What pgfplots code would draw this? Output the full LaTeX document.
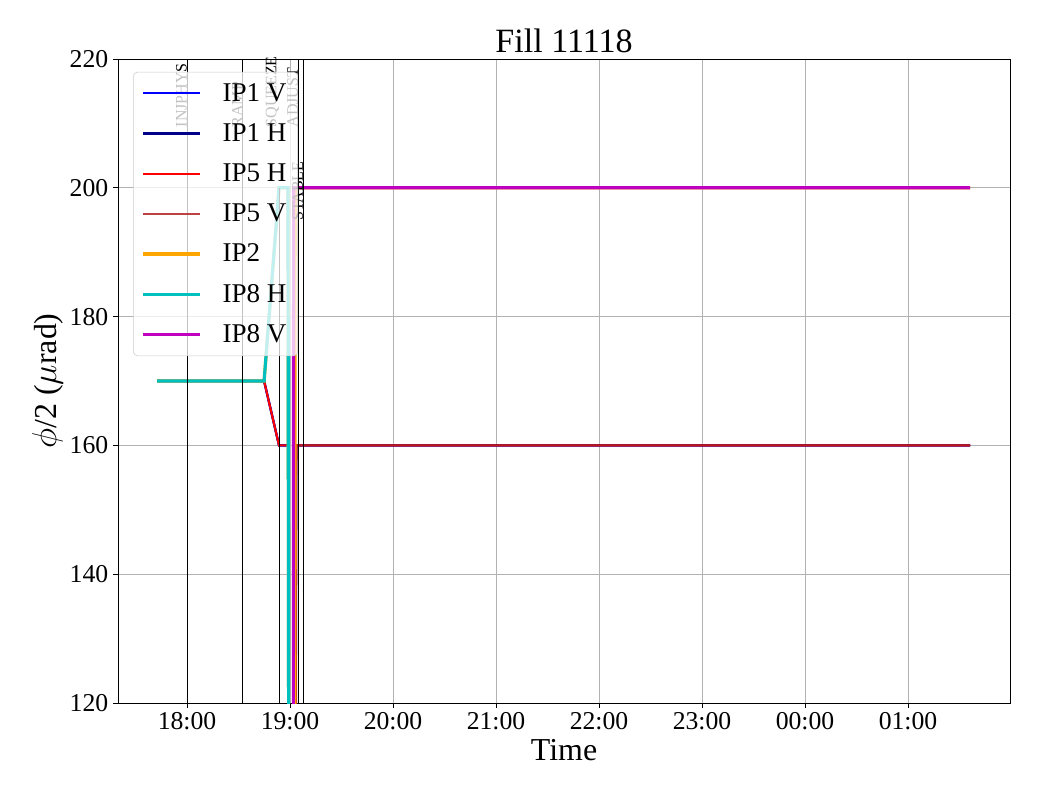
\documentclass[border=0pt]{standalone}
\usepackage{fontspec}
\setmainfont{Liberation Serif}
\usepackage{pgfplots}
\pgfplotsset{compat=1.18}
\definecolor{ip1h}{RGB}{0,0,139}
\definecolor{ip5v}{RGB}{178,34,34}
\definecolor{ip2}{RGB}{255,165,0}
\definecolor{ip8h}{RGB}{0,191,191}
\definecolor{ip8v}{RGB}{191,0,191}
\begin{document}
\begin{tikzpicture}
\begin{axis}[
  name=ax,
  scale only axis,
  width=642.2pt, height=463.7pt,
  xmin=17.33, xmax=25.99,
  ymin=120, ymax=220,
  xtick={18,19,20,21,22,23,24,25},
  xticklabels={18:00,19:00,20:00,21:00,22:00,23:00,00:00,01:00},
  ytick={120,140,160,180,200,220},
  /pgf/number format/assume math mode=true,
  tick label style={font=\fontsize{18.5}{20}\selectfont},
  tick align=outside,
  major tick length=3.5pt,
  tick style={black, line width=0.6pt},
  xtick pos=bottom, ytick pos=left,
  grid=major,
  grid style={color=black!30, line width=0.6pt},
  axis line style={line width=0.7pt},
  title={Fill 11118},
  title style={font=\fontsize{24.5}{27}\selectfont, at={(0.5,1)}, anchor=south, yshift=-5pt},
  xlabel={Time},
  ylabel={\(\phi\)/2 (\(\mu\)rad)},
  label style={font=\fontsize{23}{26}\selectfont},
  ylabel style={xshift=0pt, yshift=-2pt},
  clip mode=individual,
  legend style={at={(0.0168,0.98)}, anchor=north west, draw=black!20, rounded corners=3pt,
    fill=white, fill opacity=0.76, text opacity=1, font=\fontsize{19.5}{22}\selectfont,
    row sep=10.6pt, inner xsep=6pt, inner ysep=6pt,
    /tikz/every odd column/.append style={column sep=13pt}},
  legend cell align=left,
  legend image code/.code={\draw[#1] (0pt,0pt) -- (41pt,0pt);},
]
% IP1 V
\addplot[blue, line width=1.7pt] coordinates {(17.709,170)(18.748,170)(18.893,160)(18.985,160)(18.99,0)(19.04,0)(19.06,160)(25.602,160)};
\addlegendentry{IP1 V}
% IP1 H
\addplot[ip1h, line width=1.5pt] coordinates {(17.709,170)(18.748,170)(18.893,160)(18.985,160)(18.99,0)(19.04,0)(19.06,160)(25.602,160)};
\addlegendentry{IP1 H}
% IP5 H
\addplot[red, line width=1.5pt] coordinates {(17.709,170)(18.748,170)(18.893,160)(18.985,160)(18.99,0)(19.04,0)(19.06,160)(25.602,160)};
\addlegendentry{IP5 H}
% IP5 V
\addplot[ip5v, line width=1.5pt, draw opacity=0.85] coordinates {(19.05,0)(19.06,160)(25.602,160)};
\addlegendentry{IP5 V}
% IP2
\addplot[ip2, line width=2.3pt] coordinates {(17.709,170)(18.748,170)(18.893,200)(18.98,200)(18.995,0)(19.04,0)(19.05,200)(25.602,200)};
\addlegendentry{IP2}
% IP8 H
\addplot[ip8h, line width=2.3pt] coordinates {(17.709,170)(18.748,170)(18.893,200)(18.98,200)(18.995,0)};
\addlegendentry{IP8 H}
% IP8 V
\addplot[ip8v, line width=2.3pt] coordinates {(19.028,0)(19.035,200)(25.602,200)};
\addlegendentry{IP8 V}
% mode lines
\addplot[black, line width=0.7pt, forget plot] coordinates {(18.0,120)(18.0,220)};
\addplot[black, line width=0.7pt, forget plot] coordinates {(18.541,120)(18.541,220)};
\addplot[black, line width=0.7pt, forget plot] coordinates {(18.896,120)(18.896,200)};
\addplot[black, line width=0.7pt, forget plot] coordinates {(19.081,120)(19.081,220)};
\addplot[black, line width=0.7pt, forget plot] coordinates {(19.129,120)(19.129,220)};
\begin{scope}[every node/.style={rotate=90, anchor=south west, text=black, font=\fontsize{11.5}{12}\selectfont, inner sep=0pt, xshift=-3pt}]
\node at (axis cs:18.0,210) {INJPHYS};
\node at (axis cs:18.541,210) {RAMP};
\node at (axis cs:18.896,210) {SQUEEZE};
\node at (axis cs:19.081,210) {ADJUST};
\node at (axis cs:19.129,195.5) {STABLE};
\end{scope}
\end{axis}
\pgfresetboundingbox
\path[use as bounding box] ([xshift=-85pt,yshift=-69.84pt]ax.south west) rectangle ([xshift=21.6pt,yshift=42.48pt]ax.north east);
\end{tikzpicture}
\end{document}
